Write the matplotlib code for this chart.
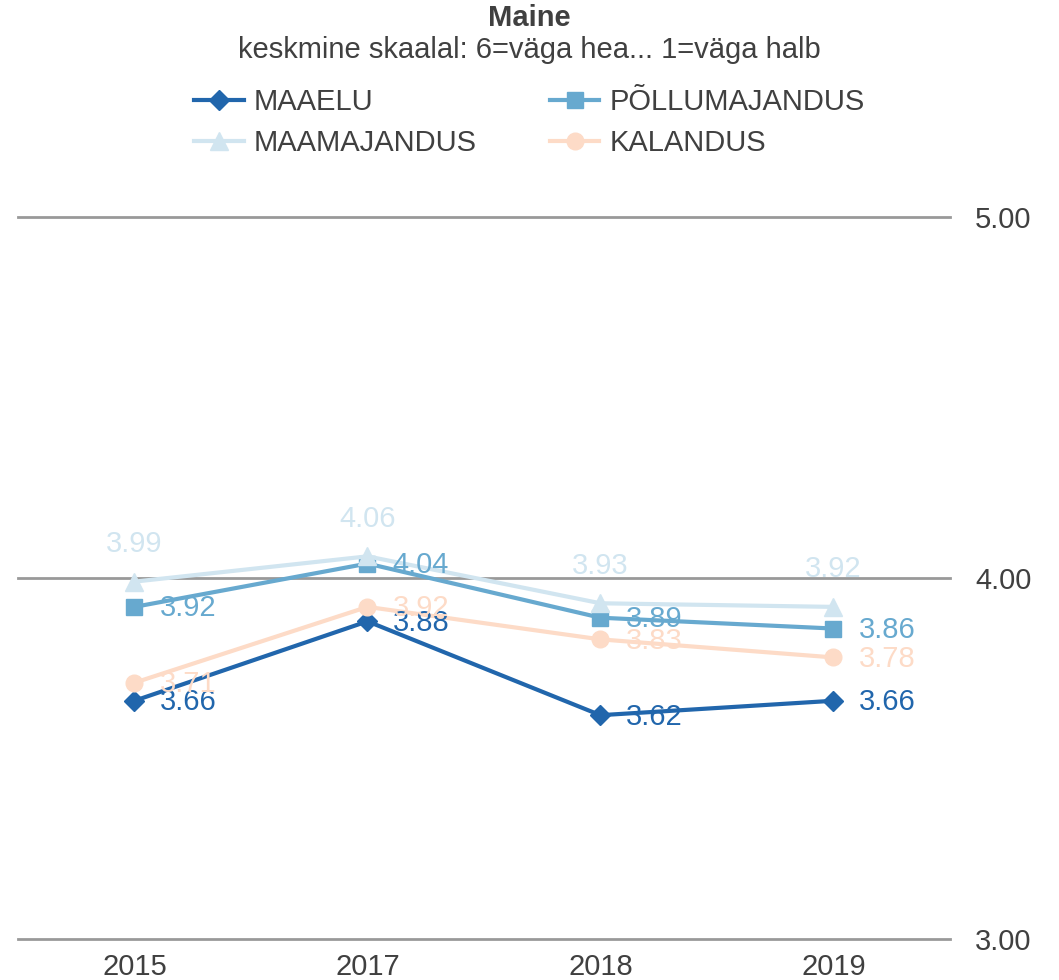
import matplotlib
matplotlib.use("Agg")
import matplotlib.pyplot as plt

plt.rcParams['font.family'] = ['Liberation Sans', 'DejaVu Sans']

years = ["2015", "2017", "2018", "2019"]
series_names = ["MAAELU", "PÕLLUMAJANDUS", "MAAMAJANDUS", "KALANDUS"]
maaelu = [3.66, 3.88, 3.62, 3.66]
pollumajandus = [3.92, 4.04, 3.89, 3.86]
maamajandus = [3.99, 4.06, 3.93, 3.92]
kalandus = [3.71, 3.92, 3.83, 3.78]
yticks = [3.0, 4.0, 5.0]

values = [maaelu, pollumajandus, maamajandus, kalandus]
colors = ["#2166ac", "#67a9cf", "#d1e5f0", "#fddbc7"]
markers = ["D", "s", "^", "o"]
msizes = [10, 12, 13, 12]
txt = "#404040"
fs = 21

fig = plt.figure(figsize=(10.59, 9.8), dpi=100)
ax = fig.add_axes([0.017, 0.0418, 0.88, 0.7368])

x = list(range(len(years)))
for name, vals, c, m, ms in zip(series_names, values, colors, markers, msizes):
    ax.plot(x, vals, color=c, lw=3, marker=m, markersize=ms, label=name, zorder=3)

# data labels: MAAMAJANDUS above the points, the rest to the right
for i, (vals, c) in enumerate(zip(values, colors)):
    for xi, v in zip(x, vals):
        if i == 2:
            ax.annotate(f"{v:.2f}", (xi, v), xytext=(0, 27), textcoords="offset points",
                        ha="center", va="center", color=c, fontsize=fs, zorder=4)
        else:
            ax.annotate(f"{v:.2f}", (xi, v), xytext=(18, -1), textcoords="offset points",
                        ha="left", va="center", color=c, fontsize=fs, zorder=4)

ax.set_xlim(-0.5, 3.5)
ax.set_ylim(3.0, 5.0)
ax.set_xticks(x)
ax.set_xticklabels(years)
ax.set_yticks(yticks)
ax.set_yticklabels([f"{t:.2f}" for t in yticks])
ax.yaxis.tick_right()
ax.tick_params(axis="both", length=0, labelsize=fs, colors=txt)
ax.tick_params(axis="y", pad=18)
ax.tick_params(axis="x", pad=10)
for s in ax.spines.values():
    s.set_visible(False)
ax.grid(axis="y", color="#999999", lw=2, zorder=1)
ax.set_axisbelow(True)
for gl in ax.get_ygridlines():
    gl.set_clip_on(False)

fig.text(0.5, 0.9815, "Maine", ha="center", va="center", fontsize=fs,
         fontweight="bold", color=txt)
fig.text(0.5, 0.949, "keskmine skaalal: 6=väga hea... 1=väga halb", ha="center",
         va="center", fontsize=fs, color=txt)

handles, labels = ax.get_legend_handles_labels()
order = [0, 2, 1, 3]  # fill legend row by row
leg = fig.legend([handles[k] for k in order], [labels[k] for k in order],
                 loc="upper center", bbox_to_anchor=(0.5, 0.937),
                 ncol=2, frameon=False, fontsize=fs, handlelength=1.7,
                 handletextpad=0.35, columnspacing=2.5, labelspacing=0.45)
for t in leg.get_texts():
    t.set_color(txt)

fig.savefig("out.png", dpi=100)
